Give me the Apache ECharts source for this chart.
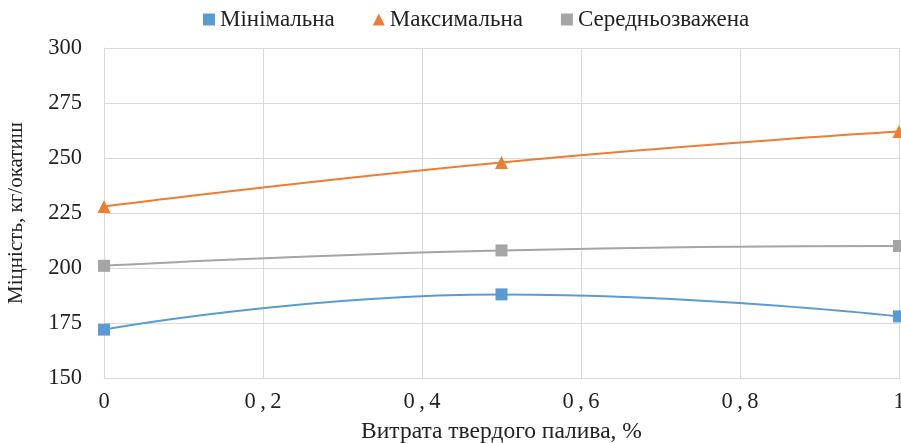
<!DOCTYPE html>
<html><head><meta charset="utf-8">
<script src="https://cdn.jsdelivr.net/npm/echarts@6/dist/echarts.min.js"></script>
<style>html,body{margin:0;padding:0;background:#fff}#c{width:901px;height:443px}</style>
</head><body><div id="c"></div>
<script>
var xValues = [0, 0.5, 1];
var seriesNames = ['Мінімальна', 'Максимальна', 'Середньозважена'];
var minVals = [172, 188, 178];
var maxVals = [228, 248, 262];
var avgVals = [201, 208, 210];
var colors = ['#5B9BD5', '#ED7D31', '#A5A5A5'];
var symbols = ['rect', 'triangle', 'rect'];
var xName = 'Витрата твердого палива, %';
var yName = 'Міцність, кг/окатиш';

var font = '"Liberation Serif", "Times New Roman", serif';
var chart = echarts.init(document.getElementById('c'));
function pairs(v){ return xValues.map(function(x,i){ return [x, v[i]]; }); }
var data = [minVals, maxVals, avgVals];
chart.setOption({
  animation: false,
  textStyle: {fontFamily: font},
  legend: {
    top: 3, left: 198, itemGap: 38, itemWidth: 12, itemHeight: 12,
    textStyle: {fontFamily: font, fontSize: 23, color: '#222'},
    data: seriesNames.map(function(n,i){ return {name: n, icon: symbols[i]}; })
  },
  grid: {left: 104, right: 2, top: 48, bottom: 65, outerBoundsMode: 'none', containLabel: false},
  xAxis: {
    type: 'value', min: 0, max: 1, interval: 0.2,
    name: xName, nameLocation: 'middle', nameGap: 42,
    nameTextStyle: {fontFamily: font, fontSize: 23.5, color: '#222'},
    axisLine: {lineStyle: {color: '#d9d9d9'}},
    axisTick: {show: false},
    axisLabel: {fontFamily: font, fontSize: 22.5, color: '#222', margin: 13,
      formatter: function(v){ var s = String(Math.round(v*10)/10).replace('.', ','); return s.split('').join('\u2009'); }},
    splitLine: {show: true, lineStyle: {color: '#d9d9d9', width: 1}}
  },
  yAxis: {
    type: 'value', min: 150, max: 300, interval: 25,
    name: yName, nameLocation: 'middle', nameGap: 77, nameRotate: 90,
    nameTextStyle: {fontFamily: font, fontSize: 21, color: '#222'},
    axisLine: {show: true, lineStyle: {color: '#d9d9d9'}},
    axisTick: {show: false},
    axisLabel: {fontFamily: font, fontSize: 22.5, color: '#222', margin: 22},
    splitLine: {show: true, lineStyle: {color: '#d9d9d9', width: 1}}
  },
  series: seriesNames.map(function(n,i){
    return {
      name: n, type: 'line', smooth: 0.5, data: pairs(data[i]),
      symbol: symbols[i], symbolSize: i===1 ? 13 : 12,
      lineStyle: {color: colors[i], width: 2},
      itemStyle: {color: colors[i]},
      clip: false
    };
  })
});
</script></body></html>
